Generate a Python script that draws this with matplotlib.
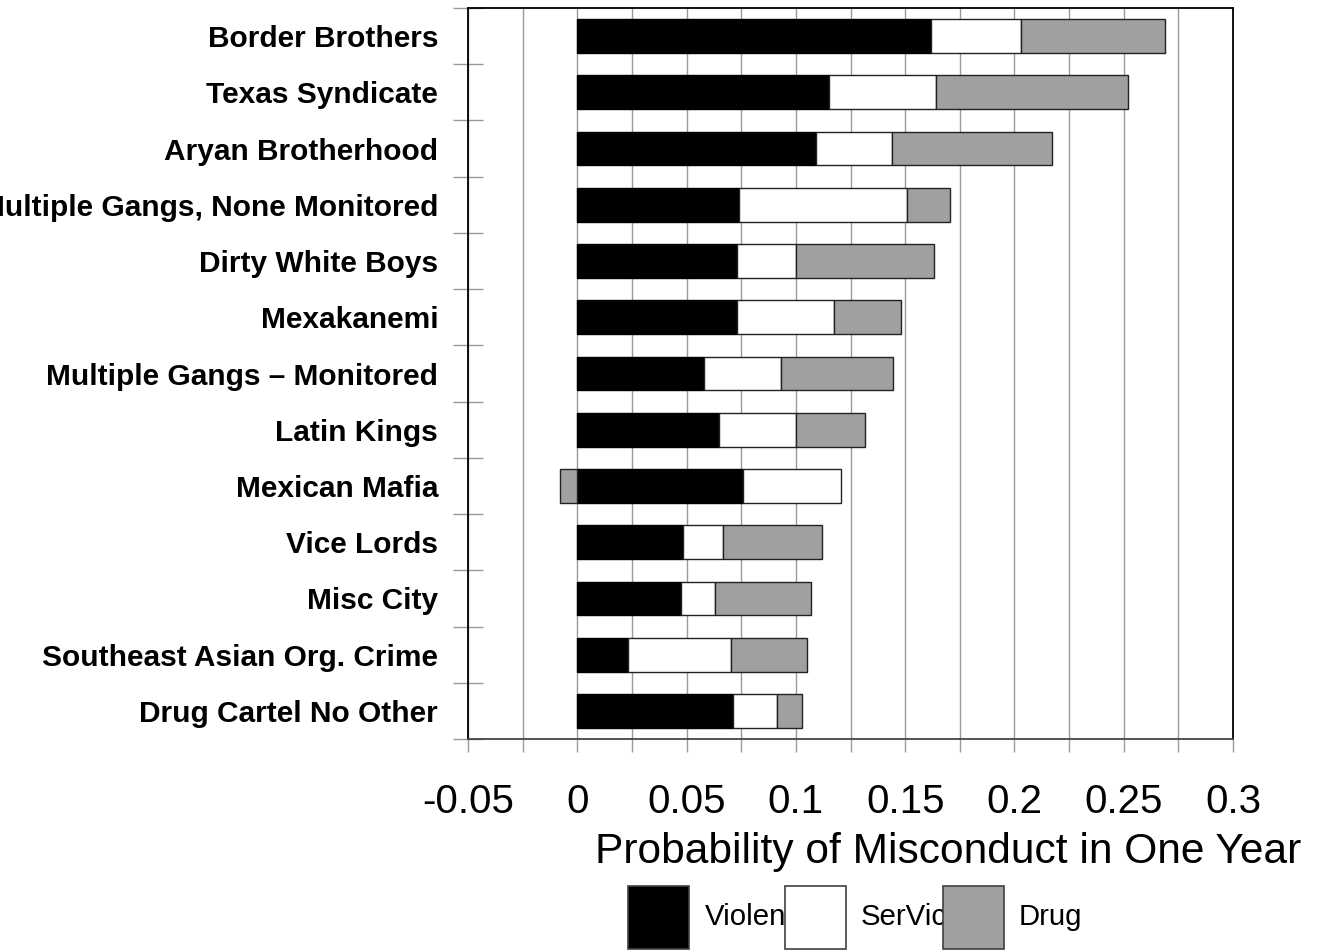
import numpy as np
import matplotlib.pyplot as plt
from matplotlib.patches import Rectangle
from matplotlib.ticker import MultipleLocator, FixedLocator

plt.rcParams['font.family'] = ['Liberation Sans', 'DejaVu Sans']

# Data
gjenger = ['Border Brothers', 'Texas Syndicate', 'Aryan Brotherhood',
           'Multiple Gangs, None Monitored', 'Dirty White Boys', 'Mexakanemi',
           'Multiple Gangs \u2013 Monitored', 'Latin Kings', 'Mexican Mafia',
           'Vice Lords', 'Misc City', 'Southeast Asian Org. Crime',
           'Drug Cartel No Other']
violent = np.array([0.162, 0.115, 0.109, 0.074, 0.073, 0.073, 0.058, 0.065,
                    0.076, 0.0485, 0.0475, 0.0232, 0.0713])
service = np.array([0.041, 0.049, 0.035, 0.077, 0.027, 0.0443, 0.035, 0.035,
                    0.0448, 0.0183, 0.0155, 0.047, 0.020])
drug = np.array([0.066, 0.088, 0.073, 0.0195, 0.063, 0.0307, 0.0514, 0.0315,
                 -0.0078, 0.0453, 0.0439, 0.035, 0.0114])
legend_labels = ['Violen', 'SerVic', 'Drug']
farger = ['black', 'white', '#a0a0a0']

fig = plt.figure(figsize=(13.17, 9.52), dpi=100)
ax = fig.add_axes([0.3554, 0.2237, 0.5808, 0.7679])

y = np.arange(len(gjenger))
h = 0.6
ax.barh(y, violent, height=h, color=farger[0], edgecolor='black', linewidth=1, zorder=3)
ax.barh(y, service, left=violent, height=h, color=farger[1], edgecolor='#222222', linewidth=1, zorder=3)
drug_left = np.where(drug >= 0, violent + service, 0)
ax.barh(y, drug, left=drug_left, height=h, color=farger[2], edgecolor='#222222', linewidth=1, zorder=3)

ax.set_xlim(-0.05, 0.3)
ax.set_ylim(len(gjenger) - 0.5, -0.5)

# x-akse
ax.xaxis.set_minor_locator(MultipleLocator(0.025))
ax.set_xticks(np.arange(-0.05, 0.301, 0.05))
ax.set_xticklabels(['-0.05', '0', '0.05', '0.1', '0.15', '0.2', '0.25', '0.3'])
ax.tick_params(axis='x', which='both', direction='out', length=9.5, width=1,
               color='#999999', labelsize=29, pad=22)
ax.grid(True, axis='x', which='both', color='#999999', linewidth=1, zorder=0)

# y-akse
ax.set_yticks(y)
ax.set_yticklabels(gjenger, fontweight='bold', fontsize=21.5)
ax.yaxis.set_minor_locator(FixedLocator(np.arange(-0.5, len(gjenger), 1.0)))
ax.tick_params(axis='y', which='major', length=0, pad=21.5)
ax.tick_params(axis='y', which='minor', direction='inout', length=21.6, width=1,
               color='#999999')

for side in ['left', 'top', 'right']:
    ax.spines[side].set_color('black')
    ax.spines[side].set_linewidth(1.3)
ax.spines['bottom'].set_color('#444444')
ax.spines['bottom'].set_linewidth(1.3)

ax.text(0.627, -0.154, 'Probability of Misconduct in One Year', transform=ax.transAxes,
        ha='center', va='center', fontsize=30.6)

# Legende
W, H = 1317, 952
boks_x = [628, 785, 943]
tekst_x = [705, 861, 1019]
for bx, tx, lab, farge in zip(boks_x, tekst_x, legend_labels, farger):
    fig.text(tx / W, 1 - 917 / H, lab, ha='left', va='center', fontsize=21.2)
    fig.patches.append(Rectangle((bx / W, 1 - 949 / H), 61 / W, 63 / H,
                                 transform=fig.transFigure, facecolor=farge,
                                 edgecolor='#404040', linewidth=1.2, zorder=5))

plt.savefig('out.png', dpi=100)
